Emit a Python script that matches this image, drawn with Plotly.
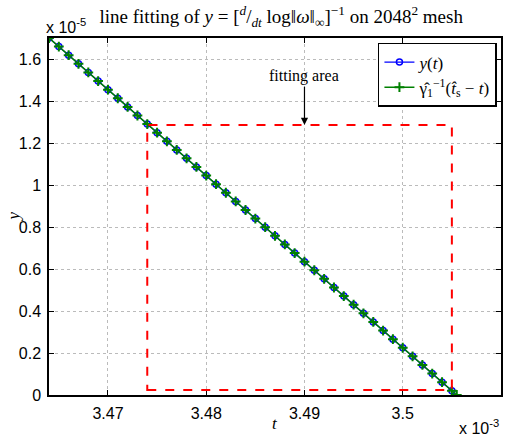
import plotly.graph_objects as go

# time (units of 1e-3) and y (units of 1e-5)
t_vals = [3.464, 3.465, 3.466, 3.467, 3.468, 3.469, 3.470, 3.471, 3.472, 3.473,
          3.474, 3.475, 3.476, 3.477, 3.478, 3.479, 3.480, 3.481, 3.482, 3.483,
          3.484, 3.485, 3.486, 3.487, 3.488, 3.489, 3.490, 3.491, 3.492, 3.493,
          3.494, 3.495, 3.496, 3.497, 3.498, 3.499, 3.500, 3.501, 3.502, 3.503,
          3.504, 3.505]
y_vals = [1.700, 1.659, 1.618, 1.577, 1.536, 1.495, 1.454, 1.413, 1.372, 1.331,
          1.290, 1.249, 1.208, 1.167, 1.127, 1.086, 1.045, 1.004, 0.963, 0.922,
          0.881, 0.840, 0.799, 0.758, 0.717, 0.676, 0.635, 0.594, 0.553, 0.512,
          0.471, 0.430, 0.389, 0.348, 0.307, 0.266, 0.225, 0.184, 0.143, 0.102,
          0.061, 0.020]
fit_t = t_vals + [3.5055]
fit_y = y_vals + [0.0]

# fitting area box: t0, t1, y0, y1
fit_area = [3.474, 3.505, 0.024, 1.286]
arrow_t = 3.49
arrow_from_y = 1.475
text_y = 1.52

x_ticks = [3.47, 3.48, 3.49, 3.50, 3.51]
x_tick_labels = ["3.47", "3.48", "3.49", "3.5", "3.51"]
y_ticks = [0, 0.2, 0.4, 0.6, 0.8, 1.0, 1.2, 1.4, 1.6]
y_tick_labels = ["0", "0.2", "0.4", "0.6", "0.8", "1", "1.2", "1.4", "1.6"]

serif = "Liberation Serif, DejaVu Serif, serif"
sans = "Liberation Sans, Arial, sans-serif"

fig = go.Figure()
fig.add_trace(go.Scatter(
    x=t_vals, y=y_vals, mode="lines+markers", name="<i>y</i>(<i>t</i>)",
    line=dict(color="#0000ff", width=1.2),
    marker=dict(symbol="circle-open", size=6, color="#0000ff", line=dict(width=1.5)),
))
fig.add_trace(go.Scatter(
    x=fit_t, y=fit_y, mode="lines+markers",
    name="γ̂<sub>1</sub><sup>−1</sup>(<i>t̂</i><sub>s</sub> − <i>t</i>)",
    line=dict(color="#008000", width=1.5),
    marker=dict(symbol="cross-thin", size=7, color="#008000", line=dict(width=2, color="#008000")),
))

fig.add_shape(type="rect", xref="x", yref="y",
              x0=fit_area[0], x1=fit_area[1], y0=fit_area[2], y1=fit_area[3],
              line=dict(color="#ff0000", width=2, dash="dash"))

fig.add_annotation(x=arrow_t, y=fit_area[3], ax=arrow_t, ay=arrow_from_y,
                   xref="x", yref="y", axref="x", ayref="y",
                   text="", showarrow=True, arrowhead=2, arrowsize=1.2,
                   arrowwidth=1.2, arrowcolor="black")
fig.add_annotation(x=arrow_t, y=text_y, xref="x", yref="y", text="fitting area",
                   showarrow=False, font=dict(family=serif, size=16, color="black"))

fig.add_annotation(x=-0.01, y=1, xref="paper", yref="paper", xanchor="left", yanchor="bottom",
                   yshift=0,
                   text="x 10<sup>-5</sup>", showarrow=False,
                   font=dict(family=sans, size=16, color="black"))
fig.add_annotation(x=1, y=0, xref="paper", yref="paper", xanchor="right", yanchor="top",
                   yshift=-20,
                   text="x 10<sup>-3</sup>", showarrow=False,
                   font=dict(family=sans, size=16, color="black"))
# axis titles
fig.add_annotation(x=0.5, y=0, xref="paper", yref="paper", xanchor="center", yanchor="top",
                   yshift=-17, text="<i>t</i>", showarrow=False,
                   font=dict(family=serif, size=17, color="black"))
fig.add_annotation(x=0, y=0.5, xref="paper", yref="paper", xanchor="center", yanchor="middle",
                   xshift=-36, text="<i>y</i>", textangle=-90, showarrow=False,
                   font=dict(family=serif, size=17, color="black"))

axis_common = dict(
    showline=True, linecolor="black", linewidth=1.5, mirror="ticks",
    ticks="inside", ticklen=5, tickwidth=1, tickcolor="black",
    showgrid=True, gridcolor="#bbbbbb", griddash="dot", gridwidth=1,
    zeroline=False, tickfont=dict(family=sans, size=16, color="black"),
    automargin=False,
)

fig.update_layout(
    width=516, height=440,
    margin=dict(l=49, r=15, t=38, b=45),
    paper_bgcolor="white", plot_bgcolor="white",
    font=dict(color="black"),
    title=dict(text="line fitting of <i>y</i> = [<sup><i>d</i></sup>/<sub><i>dt</i></sub> log‖<i>ω</i>‖<sub>∞</sub>]<sup>−1</sup> on 2048<sup>2</sup> mesh",
               x=0.545, xanchor="center", y=0.962, yanchor="middle",
               font=dict(family=serif, size=19, color="black")),
    xaxis=dict(range=[3.464, 3.51], tickvals=x_ticks, ticktext=x_tick_labels,
               ticklabelstandoff=3, **axis_common),
    yaxis=dict(range=[0, 1.7], tickvals=y_ticks, ticktext=y_tick_labels,
               ticklabelstandoff=3, **axis_common),
    legend=dict(x=0.991, y=0.986, xanchor="right", yanchor="top",
                bgcolor="white", bordercolor="black", borderwidth=1.5,
                font=dict(family=serif, size=17, color="black"),
                tracegroupgap=0, itemwidth=30),
    showlegend=True,
)

fig.write_html("out.html", config={"displayModeBar": False},
               post_script="document.body.style.margin='0';document.body.style.padding='0';")
